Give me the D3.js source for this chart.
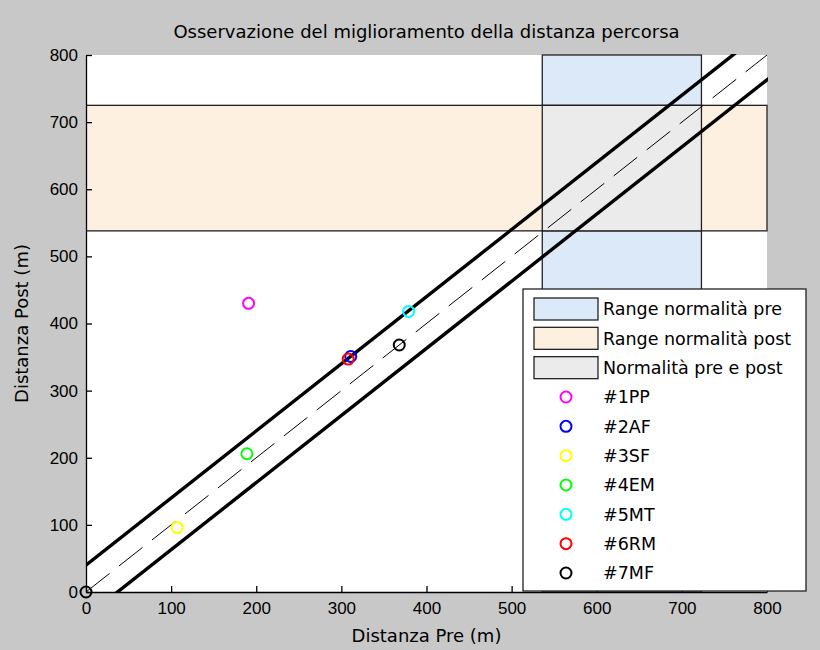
<!DOCTYPE html>
<html>
<head>
<meta charset="utf-8">
<script src="https://cdn.jsdelivr.net/npm/d3@7"></script>
<style>
  body { margin: 0; background: #c8c8c8; }
  svg { display: block; font-family: "DejaVu Sans", "Liberation Sans", Arial, sans-serif; }
  .axis text { font-size: 17px; fill: #000; }
  .axis path, .axis line { stroke: #000; stroke-width: 1.3; }
</style>
</head>
<body>
<div id="chart"></div>
<script>
// Dati
const subjects = ["#1PP", "#2AF", "#3SF", "#4EM", "#5MT", "#6RM", "#7MF"];
const preValues = [191, 311, 107, 189, 379, 308, 368];
const postValues = [430, 351, 96, 206, 418, 347, 368];
const markerColors = ["#ff00ff", "#0000ff", "#ffff00", "#00ff00", "#00ffff", "#ff0000", "#000000"];
// punto nero extra all'origine
const originPoint = [0, 0];

const rangePre = [536, 723];
const rangePost = [538, 725];
const bandOffsets = [40, -37];
const axisTicks = [0, 100, 200, 300, 400, 500, 600, 700, 800];
const patchLabels = ["Range normalità pre", "Range normalità post", "Normalità pre e post"];
const patchColors = ["#dce9f8", "#fdf0e0", "#ebebeb"];

// Dimensioni
const width = 820;
const height = 650;
const margin = { top: 55, right: 53, bottom: 58, left: 86 };
const innerWidth = width - margin.left - margin.right;
const innerHeight = height - margin.top - margin.bottom;

const svg = d3.select("#chart").append("svg")
  .attr("width", width)
  .attr("height", height);

svg.append("rect").attr("width", width).attr("height", height).attr("fill", "#c8c8c8");

const x = d3.scaleLinear().domain([0, 800]).range([0, innerWidth]);
const y = d3.scaleLinear().domain([0, 800]).range([innerHeight, 0]);

svg.append("defs").append("clipPath").attr("id", "clip")
  .append("rect").attr("width", innerWidth + 1).attr("height", innerHeight + 1).attr("y", -1);

const chart = svg.append("g").attr("transform", `translate(${margin.left},${margin.top})`);

chart.append("rect").attr("width", innerWidth).attr("height", innerHeight).attr("fill", "#fff");

const plot = chart.append("g").attr("clip-path", "url(#clip)");

// Patch: pre (verticale), post (orizzontale), intersezione
const patches = [
  { x0: rangePre[0], x1: rangePre[1], y0: 0, y1: 800 },
  { x0: 0, x1: 800, y0: rangePost[0], y1: rangePost[1] },
  { x0: rangePre[0], x1: rangePre[1], y0: rangePost[0], y1: rangePost[1] }
];

plot.selectAll("rect.patch")
  .data(patches)
  .enter()
  .append("rect")
  .attr("class", "patch")
  .attr("x", d => x(d.x0))
  .attr("y", d => y(d.y1))
  .attr("width", d => x(d.x1) - x(d.x0))
  .attr("height", d => y(d.y0) - y(d.y1))
  .attr("fill", (d, i) => patchColors[i])
  .attr("stroke", "#222")
  .attr("stroke-width", 1.3);

// Linee: bisettrice e banda
const line = d3.line().x(d => x(d[0])).y(d => y(d[1]));

plot.append("path")
  .attr("d", line([[0, 0], [800, 800]]))
  .attr("fill", "none")
  .attr("stroke", "#000")
  .attr("stroke-width", 1)
  .attr("stroke-dasharray", "30,12");

bandOffsets.forEach(off => {
  plot.append("path")
    .attr("d", line([[-100, -100 + off], [900, 900 + off]]))
    .attr("fill", "none")
    .attr("stroke", "#000")
    .attr("stroke-width", 3.4);
});

// Assi
chart.append("g")
  .attr("class", "axis")
  .attr("transform", `translate(0,${innerHeight})`)
  .call(d3.axisBottom(x).tickValues(axisTicks).tickSize(-6).tickSizeOuter(0).tickPadding(10));

chart.append("g")
  .attr("class", "axis")
  .call(d3.axisLeft(y).tickValues(axisTicks).tickSize(-6).tickSizeOuter(0).tickPadding(8));

// Punti
chart.append("circle")
  .attr("cx", x(originPoint[0]))
  .attr("cy", y(originPoint[1]))
  .attr("r", 5.5)
  .attr("fill", "none")
  .attr("stroke", "#000")
  .attr("stroke-width", 2);

chart.selectAll("circle.pt")
  .data(subjects)
  .enter()
  .append("circle")
  .attr("class", "pt")
  .attr("cx", (d, i) => x(preValues[i]))
  .attr("cy", (d, i) => y(postValues[i]))
  .attr("r", 5.5)
  .attr("fill", "none")
  .attr("stroke", (d, i) => markerColors[i])
  .attr("stroke-width", 2);

// Titoli
svg.append("text")
  .attr("x", margin.left + innerWidth / 2)
  .attr("y", 38)
  .attr("text-anchor", "middle")
  .style("font-size", "18px")
  .text("Osservazione del miglioramento della distanza percorsa");

svg.append("text")
  .attr("x", margin.left + innerWidth / 2)
  .attr("y", 642)
  .attr("text-anchor", "middle")
  .style("font-size", "18px")
  .text("Distanza Pre (m)");

svg.append("text")
  .attr("transform", "rotate(-90)")
  .attr("x", -(margin.top + innerHeight / 2))
  .attr("y", 28)
  .attr("text-anchor", "middle")
  .style("font-size", "18px")
  .text("Distanza Post (m)");

// Legenda
const legendItems = patchLabels.map((t, i) => ({ label: t, type: "patch", color: patchColors[i] }))
  .concat(subjects.map((s, i) => ({ label: s, type: "marker", color: markerColors[i] })));

const legendBox = { x: 523, y: 289, w: 283, h: 302 };
const ly = d3.scalePoint().domain(legendItems.map(d => d.label)).range([309, 573]);

const legend = svg.append("g");
legend.append("rect")
  .attr("x", legendBox.x)
  .attr("y", legendBox.y)
  .attr("width", legendBox.w)
  .attr("height", legendBox.h)
  .attr("fill", "#fff")
  .attr("stroke", "#222")
  .attr("stroke-width", 1.3);

const rows = legend.selectAll("g.row")
  .data(legendItems)
  .enter()
  .append("g")
  .attr("class", "row")
  .attr("transform", d => `translate(0,${ly(d.label)})`);

rows.filter(d => d.type === "patch")
  .append("rect")
  .attr("x", 534)
  .attr("y", -11)
  .attr("width", 64)
  .attr("height", 22)
  .attr("fill", d => d.color)
  .attr("stroke", "#222")
  .attr("stroke-width", 1.3);

rows.filter(d => d.type === "marker")
  .append("circle")
  .attr("cx", 566)
  .attr("cy", 0)
  .attr("r", 5.5)
  .attr("fill", "none")
  .attr("stroke", d => d.color)
  .attr("stroke-width", 2);

rows.append("text")
  .attr("x", 603)
  .attr("dy", "0.36em")
  .style("font-size", "17.5px")
  .text(d => d.label);
</script>
</body>
</html>
